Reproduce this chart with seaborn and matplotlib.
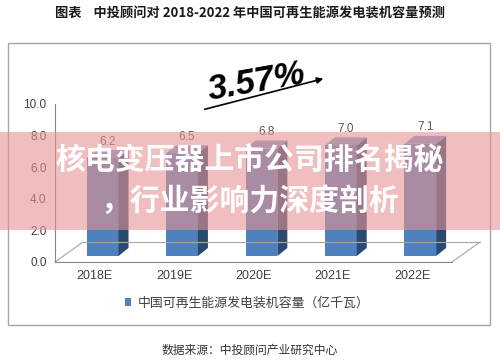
import numpy as np
import pandas as pd
import seaborn as sns
import matplotlib.pyplot as plt
from matplotlib.patches import Polygon, Rectangle

# -----------------------------
# Data
# -----------------------------
years = ["2018E", "2019E", "2020E", "2021E", "2022E"]
capacity = [6.2, 6.5, 6.8, 7.0, 7.1]
y_ticks = [0, 2, 4, 6, 8, 10]
series_name = "中国可再生能源发电装机容量（亿千瓦）"
title = "图表    中投顾问对 2018-2022 年中国可再生能源发电装机容量预测"
source = "数据来源：中投顾问产业研究中心"
growth = "3.57%"
banner_lines = ["核电变压器上市公司排名揭秘", "，行业影响力深度剖析"]

# -----------------------------
# Style
# -----------------------------
W, H = 500, 363


def fx(px):
    return px / W


def fy(py):
    return 1 - py / H


sns.set_style("white")
plt.rcParams["font.family"] = ["Liberation Sans", "Noto Sans CJK SC", "DejaVu Sans"]
CJK = ["Noto Sans CJK SC", "DejaVu Sans"]

FRONT = "#4F81BD"
SIDE = "#2B4A72"
TOP = "#779CCB"
AXIS = "#868686"
TEXT = "#404040"

fig = plt.figure(figsize=(5, 3.63), dpi=100)
ax = fig.add_axes([fx(55), fy(262), fx(452) - fx(55), fy(104) - fy(262)])

df = pd.DataFrame({"year": years, "capacity": capacity})
BASE = 0.38  # bars stand on the middle of the 3D floor
sns.barplot(data=df, x="year", y="capacity", order=years, color=FRONT,
            width=0.4, errorbar=None, saturation=1, bottom=BASE,
            linewidth=0, ax=ax)

ax.set_xlim(-0.6, 4.4)
ax.set_ylim(0, 10)

# 3D depth in data units
ux = 397 / 5.0
uy = 158 / 10.0
dx, dy = 10 / ux, 8 / uy

for p in ax.patches[:len(years)]:
    x0, y0, w, h = p.get_x(), p.get_y(), p.get_width(), p.get_height()
    side = Polygon([(x0 + w, y0), (x0 + w + dx, y0 + dy),
                    (x0 + w + dx, y0 + h + dy), (x0 + w, y0 + h)],
                   closed=True, facecolor=SIDE, edgecolor="none", clip_on=False)
    top = Polygon([(x0, y0 + h), (x0 + dx, y0 + h + dy),
                   (x0 + w + dx, y0 + h + dy), (x0 + w, y0 + h)],
                  closed=True, facecolor=TOP, edgecolor="none", clip_on=False)
    ax.add_patch(side)
    ax.add_patch(top)
    ax.text(x0 + w / 2 + dx / 2, y0 + h + dy + 0.15, f"{h:.1f}",
            ha="center", va="bottom", fontsize=8.5, color="#595959", clip_on=False)

# floor
fdx, fdy = 28 / ux, 20 / uy
ax.plot([-0.6, -0.6 + fdx], [0, fdy], color="#A6A6A6", lw=0.8, clip_on=False)
ax.plot([4.4, 4.4 + fdx], [0, fdy], color="#A6A6A6", lw=0.8, clip_on=False)
ax.plot([-0.6 + fdx, 4.4 + fdx], [fdy, fdy], color="#A6A6A6", lw=0.8, clip_on=False)

# axes
for s in ["top", "right"]:
    ax.spines[s].set_visible(False)
for s in ["left", "bottom"]:
    ax.spines[s].set_color(AXIS)
    ax.spines[s].set_linewidth(0.8)

ax.set_yticks(y_ticks)
ax.set_yticklabels([f"{t:.1f}" for t in y_ticks])
ax.set_xticks([i - 0.1 for i in range(len(years))])
ax.set_xticklabels(years)
ax.set_xticks([i + 0.4 for i in range(len(years) - 1)], minor=True)
ax.tick_params(axis="x", which="major", length=0, pad=6, labelsize=9, labelcolor=TEXT)
ax.tick_params(axis="x", which="minor", length=4, color=AXIS, direction="out")
ax.tick_params(axis="y", length=3, color=AXIS, direction="out", pad=3,
               labelsize=8.5, labelcolor=TEXT)
ax.set_xlabel("")
ax.set_ylabel("")
ax.grid(False)

# legend
leg = ax.legend([ax.containers[0]], [series_name], loc="center",
                bbox_to_anchor=(fx(247), fy(303)), bbox_transform=fig.transFigure,
                frameon=False, handlelength=0.5, handleheight=0.5,
                handletextpad=0.45, prop={"family": CJK, "size": 9.3})
for t in leg.get_texts():
    t.set_color(TEXT)

# growth annotation
fig.text(fx(257), fy(82), growth, rotation=10, fontsize=25, style="italic",
         fontweight="bold", ha="center", va="center", color="black",
         rotation_mode="anchor")
ax.annotate("", xy=(fx(326), fy(78)), xytext=(fx(202), fy(110)),
            xycoords="figure fraction", textcoords="figure fraction",
            arrowprops=dict(arrowstyle="-|>", color="black", lw=1.2, mutation_scale=9),
            annotation_clip=False)

# chart frame
fig.add_artist(Rectangle((fx(8), fy(325)), fx(490) - fx(8), fy(43) - fy(325),
                         transform=fig.transFigure, fill=False,
                         edgecolor="#A6A6A6", lw=1))

# title and source
fig.text(0.5, fy(13), title, ha="center", va="center", fontsize=9.5,
         fontweight="bold", family=CJK, color="#1A1A1A")
fig.text(0.5, fy(350), source, ha="center", va="center", fontsize=8.5,
         family=CJK, color="#333333")

# overlay banner
fig.add_artist(Rectangle((0, fy(230)), 1, fy(132) - fy(230), transform=fig.transFigure,
                         facecolor=(230 / 255, 147 / 255, 147 / 255), alpha=0.6,
                         edgecolor="none", zorder=10))
fig.text(0.5, fy(160), banner_lines[0], ha="center", va="center", fontsize=21.5,
         fontweight="bold", family=CJK, color="white", zorder=11)
fig.text(0.5, fy(201), banner_lines[1], ha="center", va="center", fontsize=21.5,
         fontweight="bold", family=CJK, color="white", zorder=11)

fig.savefig("out.png", dpi=100)
